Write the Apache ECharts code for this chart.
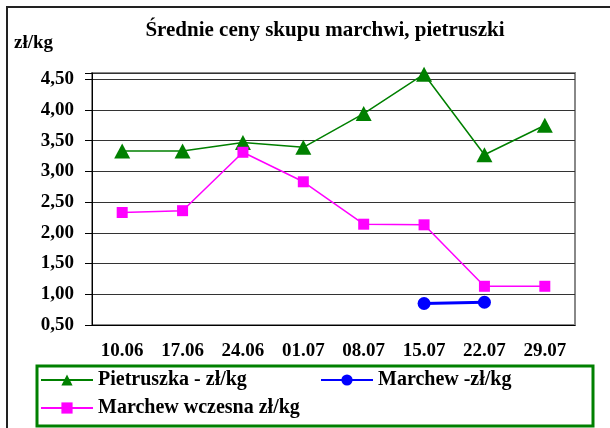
<!DOCTYPE html>
<html>
<head>
<meta charset="utf-8">
<script src="https://cdn.jsdelivr.net/npm/echarts@6/dist/echarts.min.js"></script>
<style>
  html, body { margin: 0; padding: 0; background: #fff; }
  #chart { width: 610px; height: 428px; }
</style>
</head>
<body>
<div id="chart"></div>
<script>
const weeks = ['10.06', '17.06', '24.06', '01.07', '08.07', '15.07', '22.07', '29.07'];
const pietruszka = [3.33, 3.33, 3.47, 3.39, 3.94, 4.58, 3.27, 3.75];
const marchew = [null, null, null, null, null, 0.85, 0.87, null];
const marchewWczesna = [2.33, 2.36, 3.31, 2.83, 2.14, 2.13, 1.13, 1.13];
const yTicks = [0.5, 1, 1.5, 2, 2.5, 3, 3.5, 4, 4.5];

const FONT = 'Liberation Serif';
const chart = echarts.init(document.getElementById('chart'));

const legendText = { fontFamily: FONT, fontWeight: 'bold', fontSize: 20, color: '#000' };

chart.setOption({
  animation: false,
  title: [
    {
      text: 'Średnie ceny skupu marchwi, pietruszki',
      left: 320, top: 15, textAlign: 'center',
      textStyle: { fontFamily: FONT, fontWeight: 'bold', fontSize: 21, color: '#000' }
    },
    {
      text: 'zł/kg',
      left: 9, top: 29,
      textStyle: { fontFamily: FONT, fontWeight: 'bold', fontSize: 19, color: '#000' }
    }
  ],
  graphic: [
    { type: 'rect', shape: { x: 7, y: 7, width: 700, height: 500 },
      style: { fill: 'none', stroke: '#222', lineWidth: 2 } },
    { type: 'rect', shape: { x: 37, y: 366, width: 556, height: 60 },
      style: { fill: 'none', stroke: '#008000', lineWidth: 3 } }
  ],
  legend: [
    { data: ['Pietruszka - zł/kg'], left: 40, top: 370, padding: 0,
      itemWidth: 52, itemHeight: 14, textStyle: legendText },
    { data: ['Marchew -zł/kg'], left: 320, top: 370, padding: 0,
      itemWidth: 52, itemHeight: 14, textStyle: legendText },
    { data: ['Marchew wczesna zł/kg'], left: 40, top: 398, padding: 0,
      itemWidth: 52, itemHeight: 14, textStyle: legendText }
  ],
  grid: { left: 92, right: 35, top: 73, bottom: 103, show: true,
    borderColor: '#888', borderWidth: 2 },
  xAxis: {
    type: 'category',
    data: weeks,
    boundaryGap: true,
    axisLine: { lineStyle: { color: '#000', width: 1 } },
    axisTick: { length: 8, lineStyle: { color: '#000' } },
    axisLabel: { margin: 17, fontFamily: FONT, fontWeight: 'bold', fontSize: 19, color: '#000' }
  },
  yAxis: {
    type: 'value',
    min: 0.5, max: 4.6, interval: 0.5,
    axisLine: { show: true, lineStyle: { color: '#000', width: 1 } },
    axisTick: { show: true, length: 7, lineStyle: { color: '#000' } },
    splitLine: { lineStyle: { color: '#333', width: 1 } },
    axisLabel: {
      margin: 18, fontFamily: FONT, fontWeight: 'bold', fontSize: 19, color: '#000',
      formatter: v => yTicks.some(t => Math.abs(t - v) < 1e-6) ? v.toFixed(2).replace('.', ',') : ''
    }
  },
  series: [
    {
      name: 'Pietruszka - zł/kg', type: 'line', data: pietruszka,
      symbol: 'triangle', symbolSize: [16, 15],
      lineStyle: { color: '#008000', width: 1.5 },
      itemStyle: { color: '#008000' }
    },
    {
      name: 'Marchew -zł/kg', type: 'line', data: marchew,
      symbol: 'circle', symbolSize: 13,
      lineStyle: { color: '#0000ff', width: 3 },
      itemStyle: { color: '#0000ff' }
    },
    {
      name: 'Marchew wczesna zł/kg', type: 'line', data: marchewWczesna,
      symbol: 'rect', symbolSize: 11,
      lineStyle: { color: '#ff00ff', width: 1.5 },
      itemStyle: { color: '#ff00ff' }
    }
  ]
});
</script>
</body>
</html>
